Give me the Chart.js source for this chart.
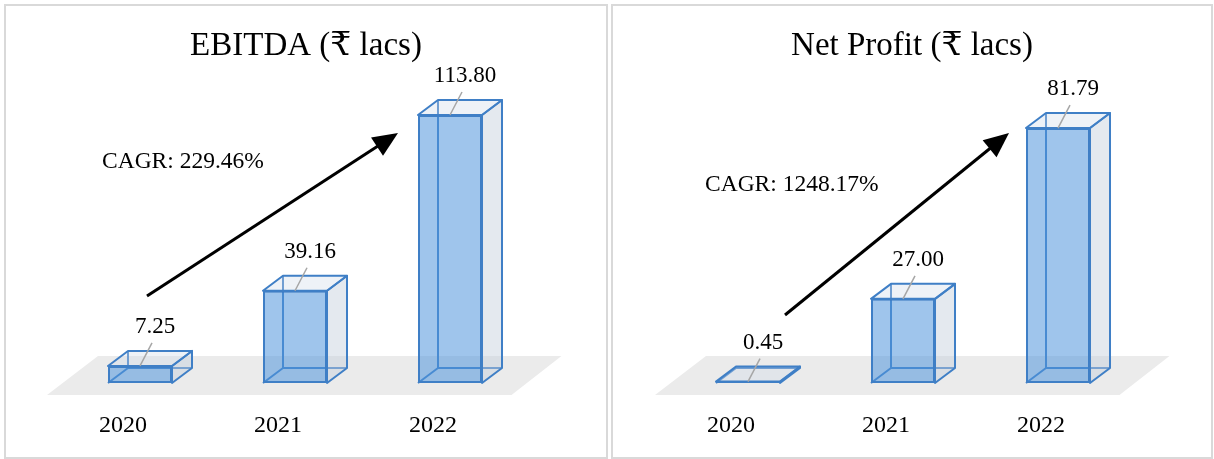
<!DOCTYPE html>
<html lang="en">
<head>
    <meta charset="UTF-8">
    <title>EBITDA and Net Profit</title>
    <script src="https://cdn.jsdelivr.net/npm/chart.js"></script>
    <style>
        body {
            margin: 0;
            background: #fff;
            width: 1214px;
            height: 459px;
            position: relative;
            overflow: hidden;
        }
        .panel {
            position: absolute;
            top: 4px;
            height: 455px;
            box-sizing: border-box;
            border: 2px solid #d9d9d9;
        }
        #p1 { left: 4px; width: 604px; }
        #p2 { left: 611px; width: 602px; }
    </style>
</head>
<body>
    <div class="panel" id="p1"><canvas id="chart1" width="600" height="451"></canvas></div>
    <div class="panel" id="p2"><canvas id="chart2" width="598" height="451"></canvas></div>

    <script>
        // data
        const years = ['2020', '2021', '2022'];
        const ebitda = [7.25, 39.16, 113.80];
        const netProfit = [0.45, 27.00, 81.79];
        const titles = ['EBITDA (₹ lacs)', 'Net Profit (₹ lacs)'];
        const cagrTexts = ['CAGR: 229.46%', 'CAGR: 1248.17%'];

        const serif = "'Liberation Serif', 'Times New Roman', 'DejaVu Serif', serif";
        const edgeColor = '#3f7fc6';

        // draws the floor, the box sides and all the text round the bars
        const box3d = {
            id: 'box3d',
            beforeDatasetsDraw(chart) {
                const ctx = chart.ctx;
                const a = chart.chartArea;
                const base = chart.scales.y.getPixelForValue(0);
                ctx.save();
                // grey floor
                ctx.fillStyle = '#ebebeb';
                ctx.beginPath();
                ctx.moveTo(a.left - 15.5, base + 12);
                ctx.lineTo(a.right - 16, base + 12);
                ctx.lineTo(a.right + 34, base - 27);
                ctx.lineTo(a.left + 35.5, base - 27);
                ctx.closePath();
                ctx.fill();

                const dx = 20, dy = -15;
                ctx.lineWidth = 2;
                ctx.lineJoin = 'round';
                ctx.strokeStyle = edgeColor;
                chart.getDatasetMeta(0).data.forEach(bar => {
                    const l = bar.x - bar.width / 2, r = bar.x + bar.width / 2;
                    const t = bar.y, b = bar.base;
                    // back edges seen through the front
                    ctx.beginPath();
                    ctx.moveTo(l + dx, t + dy);
                    ctx.lineTo(l + dx, b + dy);
                    ctx.lineTo(r + dx, b + dy);
                    ctx.moveTo(l, b);
                    ctx.lineTo(l + dx, b + dy);
                    ctx.stroke();
                    // right side
                    ctx.fillStyle = 'rgba(195,207,220,0.45)';
                    ctx.beginPath();
                    ctx.moveTo(r, t);
                    ctx.lineTo(r + dx, t + dy);
                    ctx.lineTo(r + dx, b + dy);
                    ctx.lineTo(r, b);
                    ctx.closePath();
                    ctx.fill();
                    ctx.stroke();
                    // top
                    ctx.fillStyle = 'rgba(205,218,232,0.35)';
                    ctx.beginPath();
                    ctx.moveTo(l, t);
                    ctx.lineTo(l + dx, t + dy);
                    ctx.lineTo(r + dx, t + dy);
                    ctx.lineTo(r, t);
                    ctx.closePath();
                    ctx.fill();
                    ctx.stroke();
                });
                ctx.restore();
            },
            afterDatasetsDraw(chart, args, opts) {
                const ctx = chart.ctx;
                const values = chart.data.datasets[0].data;
                ctx.save();
                chart.getDatasetMeta(0).data.forEach((bar, i) => {
                    // leader line + value
                    ctx.strokeStyle = '#a6a6a6';
                    ctx.lineWidth = 1.5;
                    ctx.beginPath();
                    ctx.moveTo(bar.x, bar.y);
                    ctx.lineTo(bar.x + 12, bar.y - 23);
                    ctx.stroke();
                    ctx.fillStyle = '#000';
                    ctx.font = '23px ' + serif;
                    ctx.textAlign = 'center';
                    ctx.textBaseline = 'alphabetic';
                    ctx.fillText(values[i].toFixed(2), bar.x + 15, bar.y - 33);
                    // category under the floor
                    ctx.font = '24px ' + serif;
                    const x = chart.scales.x.getPixelForValue(i);
                    ctx.fillText(chart.data.labels[i], x - 17, bar.base + 49);
                });

                // title
                ctx.font = '33px ' + serif;
                ctx.textAlign = 'center';
                ctx.fillText(opts.title, chart.width / 2, 49);

                // CAGR note and arrow
                ctx.font = '23.5px ' + serif;
                ctx.textAlign = 'left';
                ctx.fillText(opts.cagr, opts.cagrX, opts.cagrY);

                const [x0, y0, x1, y1] = opts.arrow;
                const ang = Math.atan2(y1 - y0, x1 - x0);
                const head = 25, half = 11;
                const bx = x1 - head * Math.cos(ang), by = y1 - head * Math.sin(ang);
                ctx.strokeStyle = '#000';
                ctx.lineWidth = 3;
                ctx.beginPath();
                ctx.moveTo(x0, y0);
                ctx.lineTo(bx + 2 * Math.cos(ang), by + 2 * Math.sin(ang));
                ctx.stroke();
                ctx.fillStyle = '#000';
                ctx.beginPath();
                ctx.moveTo(x1, y1);
                ctx.lineTo(bx + half * Math.sin(ang), by - half * Math.cos(ang));
                ctx.lineTo(bx - half * Math.sin(ang), by + half * Math.cos(ang));
                ctx.closePath();
                ctx.fill();
                ctx.restore();
            }
        };

        function makeChart(id, values, yMax, padding, box) {
            return new Chart(document.getElementById(id), {
                type: 'bar',
                data: {
                    labels: years,
                    datasets: [{
                        data: values,
                        backgroundColor: 'rgba(80,150,220,0.55)',
                        borderColor: edgeColor,
                        borderWidth: 2,
                        borderSkipped: false,
                        barPercentage: 0.413,
                        categoryPercentage: 1
                    }]
                },
                options: {
                    responsive: false,
                    animation: false,
                    events: [],
                    layout: { padding: padding },
                    scales: {
                        x: { display: false },
                        y: { display: false, min: 0, max: yMax }
                    },
                    plugins: {
                        legend: { display: false },
                        tooltip: { enabled: false },
                        box3d: box
                    }
                },
                plugins: [box3d]
            });
        }

        makeChart('chart1', ebitda, 134.6,
            { left: 56.5, right: 78.5, top: 60, bottom: 74 },
            { title: titles[0], cagr: cagrTexts[0], cagrX: 96, cagrY: 162, arrow: [141, 290, 392, 127] });

        makeChart('chart2', netProfit, 101.7,
            { left: 57.5, right: 75.5, top: 60, bottom: 74 },
            { title: titles[1], cagr: cagrTexts[1], cagrX: 92, cagrY: 185, arrow: [172, 309, 396, 127] });
    </script>
</body>
</html>
